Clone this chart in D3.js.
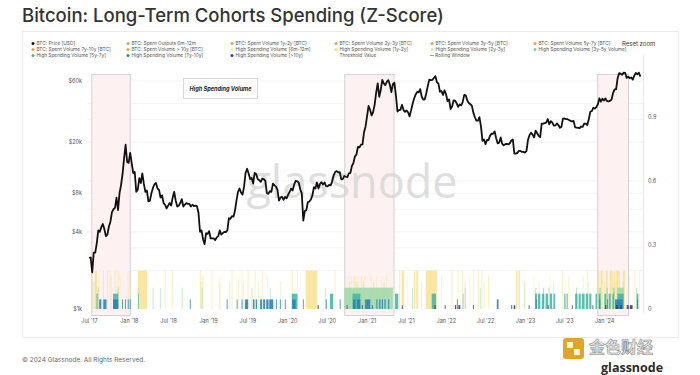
<!DOCTYPE html>
<html lang="en">
<head>
  <meta charset="UTF-8">
  <title>Bitcoin: Long-Term Cohorts Spending (Z-Score)</title>
  <script src="https://d3js.org/d3.v7.min.js"></script>
  <style>
    body { margin: 0; background: #fff; }
    svg { display: block; font-family: "Inter", "Noto Sans", sans-serif; }
  </style>
</head>
<body>
  <div id="container"></div>
  <script>
    // weekly BTC price (USD), Sundays, starting 2017-07-02
    const priceStart = '2017-07-02'
    const price2017 = [2500, 2520, 1930, 2750, 2750, 3250, 4100, 4000, 4350, 4600, 4200, 3700, 3800, 4400, 4800, 5700, 6000, 6150, 7400, 5900, 8000, 9300, 11300, 15000, 19100, 14000, 13800]
    const price2018 = [16500, 13800, 11500, 11700, 8200, 8500, 10500, 9600, 11400, 9500, 8200, 8400, 6900, 7000, 8000, 8800, 9400, 9600, 8700, 8500, 7400, 7700, 6700, 6500, 6100, 6400, 6700, 6400, 7400, 8200, 7000, 6300, 6400, 6700, 7200, 6300, 6500, 6700, 6600, 6600, 6300, 6500, 6350, 6400, 6350, 5600, 4000, 4100, 3500, 3200, 3900, 3850]
    const price2019 = [4050, 3550, 3550, 3550, 3450, 3620, 3700, 4100, 3800, 3900, 4000, 3980, 4100, 5100, 5050, 5300, 5250, 5800, 7000, 8200, 8700, 8100, 7800, 9000, 11500, 12400, 11400, 10300, 10500, 9500, 11500, 11300, 10300, 10100, 9800, 10400, 10300, 10000, 8000, 7900, 8300, 8200, 9500, 9200, 9000, 8500, 7000, 7400, 7500, 7100, 7500, 7300]
    const price2020 = [7750, 8200, 8700, 8400, 9350, 10000, 9900, 9700, 8550, 8000, 4900, 5800, 5900, 6800, 6900, 7150, 7700, 8900, 8700, 9700, 8700, 9450, 9750, 9350, 9700, 9100, 9050, 9300, 9200, 9900, 11050, 11700, 11900, 11650, 11700, 10250, 10300, 10900, 10750, 10650, 11400, 11500, 13000, 13750, 15500, 16000, 18400, 18200, 19150, 19250, 23900, 26400]
    const price2021 = [32000, 38300, 35800, 32300, 34300, 39300, 48700, 57500, 45200, 51000, 61200, 57500, 55800, 59000, 61000, 56200, 49100, 56600, 58200, 46500, 34700, 35600, 35800, 39100, 35600, 34500, 35300, 34200, 31800, 35400, 39900, 43800, 47100, 49300, 48900, 51800, 45200, 43000, 43200, 48200, 55000, 61500, 60900, 61300, 63300, 65500, 58700, 57300, 49400, 50100, 46700, 50800]
    const price2022 = [47300, 41800, 43100, 36300, 37900, 42400, 42200, 40100, 37700, 39400, 38800, 41300, 46800, 46400, 42200, 40400, 39500, 38500, 34000, 31300, 29400, 29400, 31400, 26600, 20500, 21000, 19300, 20800, 20800, 22500, 23300, 23200, 24300, 21500, 19600, 19800, 21800, 19400, 18900, 19300, 19400, 19200, 19600, 20600, 21000, 16300, 16300, 16500, 17100, 17100, 16800, 16800]
    const price2023 = [16600, 17100, 20900, 22700, 23700, 22900, 21800, 24600, 23500, 22400, 21900, 27900, 27900, 28200, 28400, 30300, 27600, 29200, 28400, 26900, 27000, 28000, 27200, 25900, 26300, 30500, 30600, 30300, 30200, 29800, 29300, 29100, 29300, 26100, 26000, 25900, 25800, 26500, 26300, 27900, 27900, 27200, 30000, 34500, 35000, 37100, 36600, 37500, 39500, 44000, 41400, 43600, 42300]
    const price2024 = [43900, 41800, 41600, 42000, 43000, 48300, 51600, 51700, 63100, 69000, 68400, 67200, 69700, 69400, 63400, 64900, 63100, 63900, 61500, 66300, 69300, 67700, 69600, 65000]

    // high spending periods per cohort [from, to]
    const hsv6m12m = [['2017-07-12','2017-07-16'],['2017-07-28','2017-08-06'],['2017-09-04','2017-09-06'],['2017-09-22','2017-09-24'],['2017-10-05','2017-10-07'],['2017-10-28','2017-10-30'],['2017-11-11','2017-11-13'],['2017-12-27','2017-12-29'],['2018-02-12','2018-03-25'],['2018-06-16','2018-06-18'],['2018-07-18','2018-07-20'],['2018-11-24','2018-11-27'],['2019-01-18','2019-01-20'],['2019-04-20','2019-04-22'],['2019-06-05','2019-06-07'],['2019-07-03','2019-07-05'],['2019-08-04','2019-08-06'],['2019-09-06','2019-09-08'],['2020-01-22','2020-01-24'],['2020-02-14','2020-02-16'],['2020-03-26','2020-05-16'],['2020-08-07','2020-08-09'],['2021-06-01','2021-06-04'],['2021-06-12','2021-06-21'],['2021-08-06','2021-08-12'],['2021-08-18','2021-08-26'],['2021-10-01','2021-11-20'],['2022-01-28','2022-01-30'],['2022-02-25','2022-02-27'],['2022-03-16','2022-03-18'],['2022-05-06','2022-05-08'],['2022-05-29','2022-05-31'],['2022-06-15','2022-06-17'],['2022-11-20','2022-11-26'],['2022-12-02','2022-12-08'],['2023-06-20','2023-06-22'],['2023-10-13','2023-10-15'],['2023-12-04','2023-12-08'],['2023-12-16','2023-12-24'],['2024-01-08','2024-01-16'],['2024-01-28','2024-02-08'],['2024-02-14','2024-02-18'],['2024-02-26','2024-03-12'],['2024-03-28','2024-04-04'],['2024-05-20','2024-05-22'],['2024-06-10','2024-06-11']]
    const hsv1y2y = [['2017-08-15','2017-08-17'],['2017-10-12','2017-10-14'],['2017-11-20','2017-11-22'],['2018-12-05','2018-12-10'],['2019-02-24','2019-02-26'],['2019-05-20','2019-05-22'],['2019-10-01','2019-10-03'],['2020-10-05','2020-10-08'],['2020-10-20','2020-10-23'],['2020-11-02','2020-11-10'],['2020-11-20','2020-11-23'],['2020-12-05','2020-12-10'],['2020-12-22','2020-12-25'],['2021-01-20','2021-01-23'],['2021-02-15','2021-02-17'],['2021-03-10','2021-03-12'],['2021-04-01','2021-04-03'],['2021-07-05','2021-07-07'],['2021-12-10','2021-12-12'],['2022-04-20','2022-04-22'],['2022-07-15','2022-07-19'],['2023-02-10','2023-02-12'],['2023-04-25','2023-04-27'],['2023-07-20','2023-07-22'],['2023-09-25','2023-09-27'],['2023-12-22','2023-12-27'],['2024-02-05','2024-02-09'],['2024-03-05','2024-03-09'],['2024-04-25','2024-04-27']]
    const hsv2y3y = [['2017-07-22','2017-07-25'],['2018-11-28','2018-12-01'],['2019-02-20','2019-02-22'],['2019-04-10','2019-04-12'],['2019-06-12','2019-06-14'],['2019-08-20','2019-08-22'],['2019-12-01','2019-12-03'],['2020-10-12','2020-10-15'],['2020-11-15','2020-11-18'],['2020-12-15','2020-12-18'],['2021-02-01','2021-02-04'],['2021-03-20','2021-03-23'],['2021-09-10','2021-09-12'],['2022-03-29','2022-04-01'],['2022-06-25','2022-06-27'],['2022-12-28','2023-01-01'],['2023-03-05','2023-03-07'],['2023-05-10','2023-05-12'],['2023-10-20','2023-10-22'],['2023-12-01','2023-12-04'],['2024-01-02','2024-01-05'],['2024-02-22','2024-02-25'],['2024-03-25','2024-03-28']]
    const hsv3y5y = [['2017-08-10','2017-08-13'],['2017-11-10','2017-11-13'],['2018-02-11','2018-02-13'],['2018-04-21','2018-04-23'],['2018-05-24','2018-05-26'],['2018-09-02','2018-09-04'],['2018-12-03','2018-12-05'],['2019-07-21','2019-07-23'],['2019-10-13','2019-10-15'],['2020-06-25','2020-06-27'],['2020-09-20','2021-05-01'],['2021-07-30','2021-08-01'],['2022-03-30','2022-04-01'],['2022-06-07','2022-06-09'],['2023-02-18','2023-02-21'],['2023-03-25','2023-03-28'],['2023-04-20','2023-04-23'],['2023-08-25','2023-08-28'],['2023-12-10','2023-12-15'],['2024-01-12','2024-01-17'],['2024-02-10','2024-02-18'],['2024-03-01','2024-03-31'],['2024-05-28','2024-05-30']]
    const hsv5y7y = [['2017-08-05','2017-08-09'],['2017-10-20','2017-11-12'],['2018-02-13','2018-02-15'],['2020-01-22','2020-02-16'],['2020-07-16','2020-07-30'],['2020-10-28','2020-12-02'],['2021-05-12','2021-05-26'],['2021-10-28','2021-11-16'],['2022-03-20','2022-03-22'],['2023-02-16','2023-02-24'],['2023-03-02','2023-03-12'],['2023-03-20','2023-03-30'],['2023-04-06','2023-04-16'],['2023-04-26','2023-05-05'],['2023-05-12','2023-05-19'],['2023-07-01','2023-07-06'],['2023-07-12','2023-07-16'],['2023-08-20','2023-08-30'],['2023-09-05','2023-09-14'],['2023-09-20','2023-10-02'],['2023-10-08','2023-10-18'],['2023-10-24','2023-11-02'],['2023-11-22','2023-11-28'],['2023-12-06','2023-12-14'],['2024-01-02','2024-01-10'],['2024-01-22','2024-01-30'],['2024-02-08','2024-02-14'],['2024-03-02','2024-03-30'],['2024-05-30','2024-06-06']]
    const hsv7y10y = [['2017-08-17','2017-08-26'],['2017-09-05','2017-09-19'],['2017-10-20','2017-11-12'],['2017-11-30','2017-12-03'],['2017-12-14','2017-12-17'],['2017-12-27','2017-12-30'],['2018-01-05','2018-01-08'],['2018-10-09','2018-10-12'],['2019-03-28','2019-03-31'],['2019-05-13','2019-05-16'],['2019-06-05','2019-06-08'],['2019-06-20','2019-07-04'],['2019-07-27','2019-08-02'],['2019-08-09','2019-08-14'],['2019-08-29','2019-09-06'],['2019-09-12','2019-09-20'],['2019-09-26','2019-10-06'],['2019-10-10','2019-10-28'],['2019-11-10','2019-11-13'],['2019-11-28','2019-12-01'],['2019-12-21','2019-12-24'],['2020-01-24','2020-02-08'],['2020-03-13','2020-03-16'],['2020-06-27','2020-06-30'],['2020-08-30','2020-09-02'],['2020-10-30','2020-11-10'],['2020-11-18','2020-12-02'],['2020-12-25','2021-01-17'],['2021-02-15','2021-02-19'],['2021-02-28','2021-03-05'],['2021-03-12','2021-03-16'],['2021-03-24','2021-03-28'],['2021-04-10','2021-04-14'],['2022-02-21','2022-02-24'],['2022-08-24','2022-08-31'],['2023-02-20','2023-02-23'],['2023-12-10','2023-12-13'],['2024-01-15','2024-01-18'],['2024-02-20','2024-03-25'],['2024-06-01','2024-06-04']]
    const hsv10y = [['2020-05-20','2020-05-24'],['2020-10-01','2020-10-04'],['2020-12-10','2020-12-13'],['2021-01-25','2021-01-28'],['2021-06-12','2021-06-15'],['2021-11-10','2021-11-14'],['2021-12-27','2021-12-30'],['2022-02-12','2022-02-17'],['2022-02-28','2022-03-08'],['2022-05-06','2022-05-09'],['2022-10-30','2022-11-02'],['2022-11-10','2022-11-16'],['2023-01-18','2023-01-21'],['2023-04-16','2023-04-19'],['2023-08-05','2023-08-08'],['2023-11-08','2023-11-11'],['2024-01-05','2024-01-10'],['2024-02-25','2024-03-05'],['2024-03-15','2024-03-22'],['2024-04-14','2024-04-22'],['2024-04-28','2024-05-10']]

    // z-score level each cohort shows when high
    const cohortLevels = [0.18, 0.155, 0.128, 0.1, 0.072, 0.045, 0.018]
    const cohortColors = ['#f8dc7a', '#fbeea4', '#d3ebaa', '#9dd7a6', '#3fb4a6', '#2b84b8', '#3b3d8d']
    const cohortOpacity = [0.7, 0.8, 0.8, 0.85, 0.85, 0.9, 0.9]
    const cohortPeriods = [hsv6m12m, hsv1y2y, hsv2y3y, hsv3y5y, hsv5y7y, hsv7y10y, hsv10y]

    // shaded high spending windows
    const windows = [['2017-07-12', '2018-01-05'], ['2020-09-20', '2021-05-05'], ['2023-11-30', '2024-04-20']]

    const priceTicks = [1000, 4000, 8000, 20000, 60000]
    const priceGrid = [2000, 3000, 4000, 6000, 8000, 10000, 20000, 30000, 40000, 60000]
    const zTicks = [0, 0.3, 0.6, 0.9]
    const dateTicks = ['2017-07-01', '2018-01-01', '2018-07-01', '2019-01-01', '2019-07-01', '2020-01-01', '2020-07-01', '2021-01-01', '2021-07-01', '2022-01-01', '2022-07-01', '2023-01-01', '2023-07-01', '2024-01-01']

    const legendItems = [
      ['BTC: Price [USD]', '#111'], ['BTC: Spent Outputs 6m-12m', '#f0a040'], ['BTC: Spent Volume 1y-2y [BTC]', '#f0a040'],
      ['BTC: Spent Volume 2y-3y [BTC]', '#f0a040'], ['BTC: Spent Volume 3y-5y [BTC]', '#f0a040'], ['BTC: Spent Volume 5y-7y [BTC]', '#f0a040'],
      ['BTC: Spent Volume 7y-10y [BTC]', '#f0a040'], ['BTC: Spent Volume > 10y [BTC]', '#f0a040'], ['High Spending Volume [6m-12m]', '#fbeea4'],
      ['High Spending Volume [1y-2y]', '#f8dc7a'], ['High Spending Volume [2y-3y]', '#d3ebaa'], ['High Spending Volume [3y-5y Volume]', '#7fcf9c'],
      ['High Spending Volume [5y-7y]', '#3fb4a6'], ['High Spending Volume [7y-10y]', '#2b84b8'], ['High Spending Volume [>10y]', '#3b3d8d'],
      ['Threshold Value', null], ['Rolling Window', 'line']
    ]

    const parse = d3.timeParse('%Y-%m-%d')
    const allPrices = [].concat(price2017, price2018, price2019, price2020, price2021, price2022, price2023, price2024)
    const t0 = parse(priceStart)
    const priceData = allPrices.map((p, i) => ({ date: d3.timeDay.offset(t0, i * 7), price: p }))

    const svg = d3.select('#container').append('svg')
      .attr('width', 700)
      .attr('height', 375)

    // title
    svg.append('text')
      .attr('x', 22).attr('y', 22)
      .attr('font-size', 18.5).attr('font-weight', 500).attr('fill', '#333')
      .text('Bitcoin: Long-Term Cohorts Spending (Z-Score)')

    // card
    svg.append('rect')
      .attr('x', 22.5).attr('y', 31.5).attr('width', 656).attr('height', 306)
      .attr('fill', 'none').attr('stroke', '#ececec')

    const x = d3.scaleTime().domain([parse('2017-06-22'), parse('2024-06-28')]).range([87, 643])
    const yPrice = d3.scaleLog().domain([1000, 60000]).range([309, 81])
    const yZ = d3.scaleLinear().domain([0, 0.9]).range([309, 117])

    // grid
    svg.append('g').selectAll('line')
      .data(priceGrid)
      .enter()
      .append('line')
        .attr('x1', 87).attr('x2', 643)
        .attr('y1', d => yPrice(d)).attr('y2', d => yPrice(d))
        .attr('stroke', '#f1f1f1').attr('stroke-width', 0.8)

    // shaded windows
    svg.append('g').selectAll('rect')
      .data(windows)
      .enter()
      .append('rect')
        .attr('x', d => x(parse(d[0])) + 0.5)
        .attr('width', d => x(parse(d[1])) - x(parse(d[0])))
        .attr('y', 74.5).attr('height', 241)
        .attr('fill', '#fdf1f1').attr('stroke', '#c9c9c9').attr('stroke-width', 0.8)

    // high spending bars, tallest cohort first
    cohortPeriods.forEach((periods, k) => {
      svg.append('g').selectAll('rect')
        .data(periods)
        .enter()
        .append('rect')
          .attr('x', d => x(parse(d[0])))
          .attr('width', d => x(d3.timeDay.offset(parse(d[1]), 1)) - x(parse(d[0])))
          .attr('y', yZ(cohortLevels[k]))
          .attr('height', yZ(0) - yZ(cohortLevels[k]))
          .attr('fill', cohortColors[k])
          .attr('fill-opacity', cohortOpacity[k])
    })

    // watermark
    svg.append('text')
      .attr('x', 352).attr('y', 198)
      .attr('text-anchor', 'middle')
      .attr('font-family', '"Open Sans", sans-serif')
      .attr('font-size', 45).attr('font-weight', 500)
      .attr('fill', '#d4d4d4').attr('fill-opacity', 0.75)
      .text('glassnode')

    // price line
    const line = d3.line()
      .x(d => x(d.date))
      .y(d => yPrice(d.price))
    svg.append('path')
      .datum(priceData)
      .attr('d', line)
      .attr('fill', 'none')
      .attr('stroke', '#111')
      .attr('stroke-width', 1.8)
      .attr('stroke-linejoin', 'round')

    // annotation
    svg.append('rect')
      .attr('x', 183.5).attr('y', 78.5).attr('width', 74).attr('height', 20)
      .attr('fill', '#fff').attr('stroke', '#cfcfcf').attr('stroke-width', 0.8)
    svg.append('text')
      .attr('x', 220.5).attr('y', 90.5)
      .attr('text-anchor', 'middle')
      .attr('font-size', 5.6).attr('font-style', 'italic').attr('font-weight', 700).attr('fill', '#222')
      .text('High Spending Volume')

    // right axis line
    svg.append('line')
      .attr('x1', 643.5).attr('x2', 643.5).attr('y1', 55).attr('y2', 313)
      .attr('stroke', '#f5e9b0')

    const axisStyle = g => {
      g.select('.domain').remove()
      g.selectAll('text').attr('font-size', 5.5).attr('fill', '#555').attr('font-family', '"Inter", sans-serif')
    }
    svg.append('g')
      .attr('transform', 'translate(84,0)')
      .call(d3.axisLeft(yPrice).tickValues(priceTicks).tickSize(0).tickPadding(2)
        .tickFormat(d => '$' + d / 1000 + 'k'))
      .call(axisStyle)
    svg.append('g')
      .attr('transform', 'translate(643,0)')
      .call(d3.axisRight(yZ).tickValues(zTicks).tickSize(0).tickPadding(5)
        .tickFormat(d3.format('')))
      .call(axisStyle)
    svg.append('g')
      .attr('transform', 'translate(0,314)')
      .call(d3.axisBottom(x).tickValues(dateTicks.map(parse)).tickSize(0).tickPadding(5)
        .tickFormat(d3.timeFormat("%b '%y")))
      .call(axisStyle)

    // legend
    const colX = [33, 128, 232, 336, 432, 535]
    const legend = svg.append('g').selectAll('g')
      .data(legendItems)
      .enter()
      .append('g')
        .attr('transform', (d, i) => 'translate(' + colX[i % 6] + ',' + (43.5 + Math.floor(i / 6) * 6) + ')')
    legend.filter(d => d[1] && d[1] !== 'line')
      .append('circle')
        .attr('r', 1.5)
        .attr('fill', d => d[1])
    legend.filter(d => d[1] === 'line')
      .append('line')
        .attr('x1', -2).attr('x2', 2)
        .attr('stroke', '#888').attr('stroke-width', 0.8)
    legend.append('text')
      .attr('x', d => d[1] === 'line' ? 3 : 3.5)
      .attr('y', 1.8)
      .attr('font-size', 4.8).attr('fill', '#555')
      .text(d => d[0])

    svg.append('text')
      .attr('x', 622).attr('y', 46)
      .attr('font-size', 6).attr('fill', '#333')
      .text('Reset zoom')

    // footer
    svg.append('text')
      .attr('x', 22).attr('y', 362)
      .attr('font-size', 6.5).attr('fill', '#666')
      .text('\u00a9 2024 Glassnode. All Rights Reserved.')

    const logo = svg.append('g').attr('transform', 'translate(563,338)')
    logo.append('rect')
      .attr('width', 21).attr('height', 21).attr('rx', 3)
      .attr('fill', '#e0a526')
    logo.append('rect')
      .attr('x', 4).attr('y', 4).attr('width', 6).attr('height', 6).attr('fill', '#fff3cf')
    logo.append('rect')
      .attr('x', 11).attr('y', 11).attr('width', 6).attr('height', 6).attr('fill', '#fff3cf')
    svg.append('text')
      .attr('x', 589).attr('y', 353)
      .attr('font-family', '"Noto Sans CJK SC", sans-serif')
      .attr('font-size', 16).attr('font-weight', 700)
      .attr('fill', '#e8e8e8').attr('stroke', '#8a8a8a').attr('stroke-width', 0.6)
      .text('金色财经')
    svg.append('text')
      .attr('x', 601).attr('y', 372)
      .attr('font-family', '"Open Sans", sans-serif')
      .attr('font-size', 12.5).attr('font-weight', 700).attr('fill', '#2a2a2a')
      .text('glassnode')
  </script>
</body>
</html>
